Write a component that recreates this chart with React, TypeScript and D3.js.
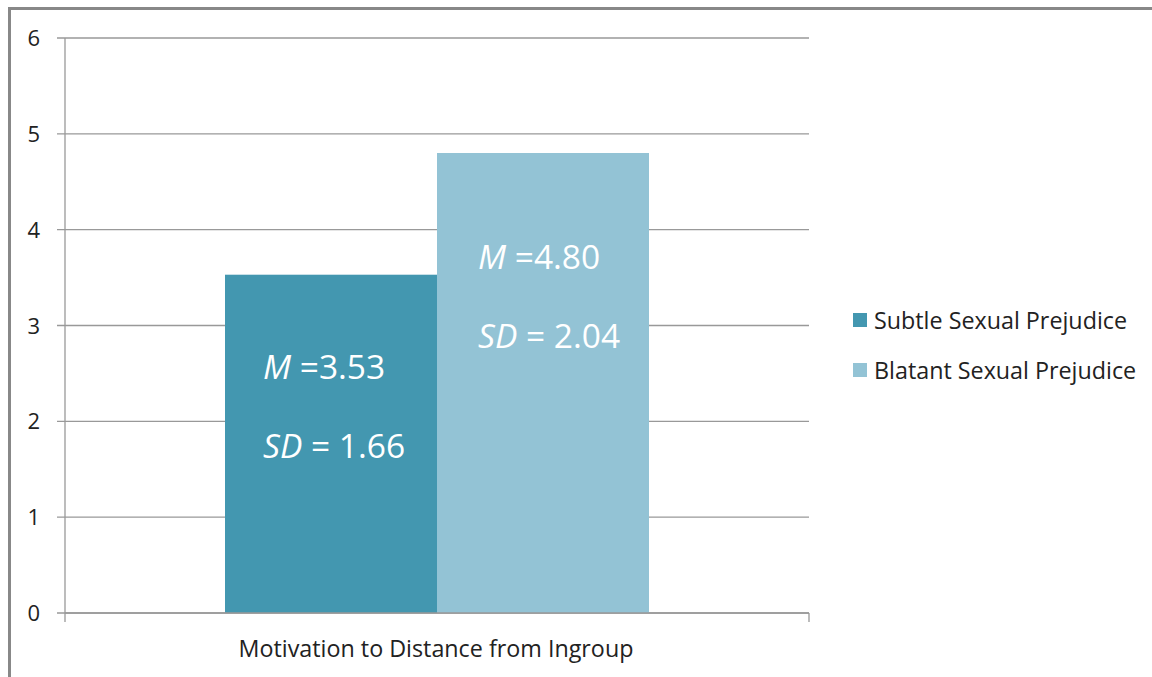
import React from "react";
import * as d3 from "d3";

const categories = ["Motivation to Distance from Ingroup"];
const seriesNames = ["Subtle Sexual Prejudice", "Blatant Sexual Prejudice"];
const means = [3.53, 4.8];
const sds = [1.66, 2.04];
const yTicks = [0, 1, 2, 3, 4, 5, 6];
const colors = ["#4397B0", "#93C3D5"];

const W = 1152;
const H = 677;
const FONT = "'Open Sans', 'Liberation Sans', sans-serif";

export default function App() {
  const left = 65, right = 809, top = 38, bottom = 613;
  const y = d3.scaleLinear().domain([0, 6]).range([bottom, top]);
  const xCat = d3.scaleBand().domain(categories).range([left, right]).paddingInner(0).paddingOuter(0);
  const bandStart = xCat(categories[0])!;
  const bw = xCat.bandwidth();
  const groupPad = 160 / 744;
  const inner = d3
    .scaleBand()
    .domain(seriesNames)
    .range([bandStart + bw * groupPad, bandStart + bw * (1 - groupPad)])
    .padding(0);
  const labelOffsets = [104, 116];
  const labelDx = [38, 41];

  return (
    <svg width={W} height={H} style={{ position: "absolute", left: 0, top: 0, background: "#fff" }} fontFamily={FONT}>
      <rect x={9.5} y={8.5} width={1300} height={800} fill="none" stroke="#888" strokeWidth={3} />
      {yTicks.map((t) => (
        <g key={t}>
          <line x1={57} x2={right} y1={y(t)} y2={y(t)} stroke="#999" strokeWidth={1.3} />
          <text x={40} y={y(t) + 8} textAnchor="end" fontSize={22} fill="#222">
            {t}
          </text>
        </g>
      ))}
      <line x1={left} x2={left} y1={top} y2={bottom + 9} stroke="#999" strokeWidth={1.3} />
      <line x1={right} x2={right} y1={bottom} y2={bottom + 9} stroke="#999" strokeWidth={1.3} />
      {seriesNames.map((s, i) => (
        <rect
          key={s}
          x={inner(s)!}
          y={y(means[i])}
          width={inner.bandwidth()}
          height={bottom - y(means[i])}
          fill={colors[i]}
        />
      ))}
      <line x1={left} x2={right} y1={bottom} y2={bottom} stroke="#999" strokeWidth={1.5} />
      {seriesNames.map((s, i) => {
        const x0 = inner(s)! + labelDx[i];
        const yM = y(means[i]) + labelOffsets[i];
        return (
          <g key={s} fill="#fff" fontSize={33.5}>
            <text x={x0} y={yM}>
              <tspan fontStyle="italic">M</tspan> =
              {means[i].toFixed(2)}
            </text>
            <text x={x0} y={yM + 79}>
              <tspan fontStyle="italic">SD</tspan> = {sds[i].toFixed(2)}
            </text>
          </g>
        );
      })}
      <text x={436} y={657} textAnchor="middle" fontSize={23.3} fill="#222">
        {categories[0]}
      </text>
      {seriesNames.map((s, i) => (
        <g key={s} transform={`translate(853, ${313 + i * 50})`}>
          <rect x={0} y={0} width={14} height={14} fill={colors[i]} />
          <text x={21} y={16} fontSize={23.3} fill="#222">
            {s}
          </text>
        </g>
      ))}
    </svg>
  );
}
